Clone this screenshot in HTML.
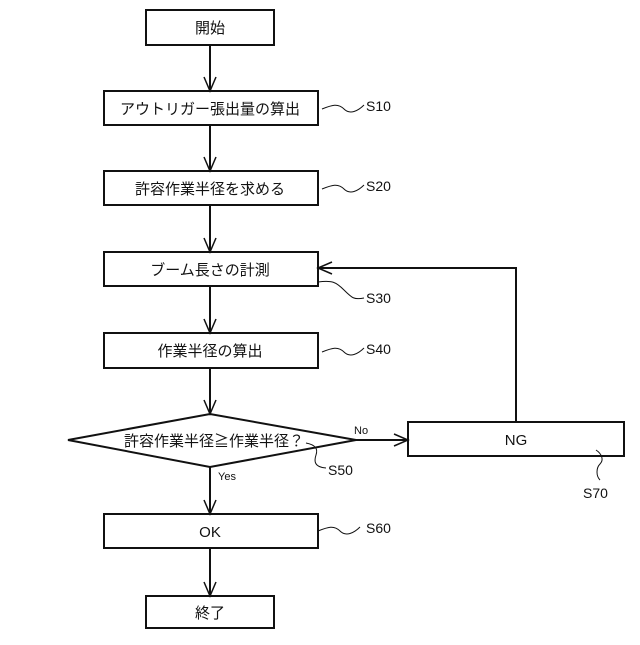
<!DOCTYPE html>
<html><head><meta charset="utf-8"><style>
html,body{margin:0;padding:0;background:#fff;}
svg text{font-family:"Liberation Sans","Noto Sans CJK JP",sans-serif;fill:#111;}
</style></head><body>
<svg width="640" height="640" viewBox="0 0 640 640" xmlns="http://www.w3.org/2000/svg">
<g fill="none" stroke="#111" stroke-width="2">
<rect x="146" y="10" width="128" height="35"/>
<rect x="104" y="91" width="214" height="34"/>
<rect x="104" y="171" width="214" height="34"/>
<rect x="104" y="252" width="214" height="34"/>
<rect x="104" y="333" width="214" height="35"/>
<polygon points="68,440 210,414 356,440 210,467"/>
<rect x="408" y="422" width="216" height="34"/>
<rect x="104" y="514" width="214" height="34"/>
<rect x="146" y="596" width="128" height="32"/>
<path d="M210 45V91M210 125V171M210 205V252M210 286V333M210 368V414M210 467V514M210 548V596"/>
<path d="M356 440H408M516 422V268H318"/>
<path stroke-width="1.5" d="M204 77L210 91L216 77M204 157L210 171L216 157M204 238L210 252L216 238M204 319L210 333L216 319M204 400L210 414L216 400M204 500L210 514L216 500M204 582L210 596L216 582M394 434L408 440L394 446M332 262L318 268L332 274"/>
</g>
<g fill="none" stroke="#111" stroke-width="1">
<path d="M322 109c10-4 16-6 22 0s14 2 20-4"/>
<path d="M322 189c10-4 16-6 22 0s14 2 20-4"/>
<path d="M318 282c14-2 18 0 26 8s10 10 20 8"/>
<path d="M322 352c10-4 16-6 22 0s14 2 20-4"/>
<path d="M306 443c10 2 12 6 10 12s-2 12 10 13"/>
<path d="M596 450c6 4 8 10 4 14s-4 12 0 16"/>
<path d="M318 531c10-4 16-6 22 0s14 2 20-4"/>
</g>
<g font-size="15" text-anchor="middle">
<text x="210" y="33">開始</text>
<text x="210" y="114">アウトリガー張出量の算出</text>
<text x="210" y="194">許容作業半径を求める</text>
<text x="210" y="275">ブーム長さの計測</text>
<text x="210" y="356">作業半径の算出</text>
<text x="214" y="446">許容作業半径≧作業半径？</text>
<text x="516" y="445">NG</text>
<text x="210" y="537">OK</text>
<text x="210" y="618">終了</text>
</g>
<g font-size="14">
<text x="366" y="111">S10</text>
<text x="366" y="191">S20</text>
<text x="366" y="303">S30</text>
<text x="366" y="354">S40</text>
<text x="328" y="475">S50</text>
<text x="583" y="498">S70</text>
<text x="366" y="533">S60</text>
</g>
<g font-size="11">
<text x="354" y="434">No</text>
<text x="218" y="480">Yes</text>
</g>
</svg>
</body></html>
